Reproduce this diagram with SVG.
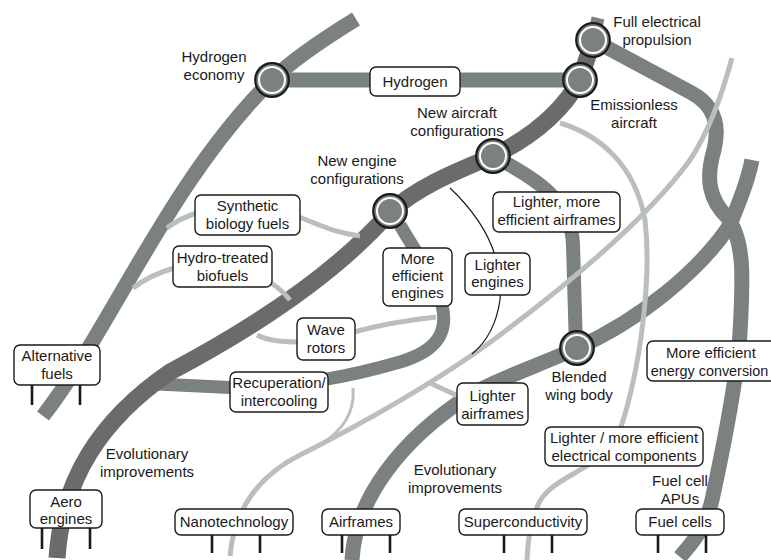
<svg xmlns="http://www.w3.org/2000/svg" width="771" height="560" viewBox="0 0 771 560">
<style>
text{font-family:"Liberation Sans",Arial,Helvetica,sans-serif;font-size:15px;fill:#1a1a1a;text-anchor:middle}
.dark{fill:none;stroke:#6b6b6b;stroke-width:17}
.gray{fill:none;stroke:#7b817f;stroke-width:15}
.light{fill:none;stroke:#b8bfbc;stroke-width:5}
.thin{fill:none;stroke:#1a1a1a;stroke-width:1.2}
.box{fill:#fff;stroke:#1a1a1a;stroke-width:1.4}
.leg{stroke:#1a1a1a;stroke-width:2.6}
.ring{fill:#7b817f;stroke:#1a1a1a;stroke-width:2.2}
.inner{fill:none;stroke:#fff;stroke-width:2}
</style>
<defs>
<g id="node"><circle r="16.8" class="ring"/><circle r="13" class="inner"/></g>
</defs>
<g id="connectors">
<path class="gray" d="M43 416 C110 330 170 180 272 80 C295 57 330 35 356 19"/>
<path class="gray" d="M272 80 L580 80"/>
<path class="gray" style="stroke-width:13" d="M157 384 L240 388 C300 385 345 378 400 362 C440 350 448 330 442 305 C438 280 420 260 400 225"/>
<path class="gray" style="stroke-width:14" d="M493 156 C535 178 572 200 573 245 L576 348"/>
<path class="gray" d="M593 40 L690 92 C715 105 720 125 714 150 C705 180 710 200 727 217 C745 240 743 280 740 333 C737 380 725 440 712 500 C705 530 690 545 680 557"/>
<path class="gray" d="M352 560 C355 500 400 440 470 395 C500 378 540 365 577 348 C640 320 700 270 730 225 C740 200 748 180 752 160"/>
<path class="gray" style="stroke-width:13" d="M593 40 L598 18"/>
<path class="dark" d="M57 558 C62 480 100 420 170 372 C240 335 330 280 390 212 C420 185 460 170 493 156 C530 138 560 115 580 80 L593 40"/>
<path class="light" d="M167 228 Q180 218 197 213"/>
<path class="light" d="M299 217 C320 225 335 233 360 236"/>
<path class="light" d="M133 288 Q150 275 174 268"/>
<path class="light" d="M271 283 Q282 290 290 300"/>
<path class="light" d="M257 335 Q270 342 298 342"/>
<path class="light" d="M354 332 Q390 322 436 317"/>
<path class="light" d="M430 383 L458 396"/>
<path class="light" d="M230 556 C233 520 250 480 300 455 C360 425 440 380 500 335 C580 275 650 215 690 160 C710 130 722 95 732 58"/>
<path class="light" style="stroke-width:3" d="M353 388 C355 410 345 430 318 446"/>
<path class="light" d="M560 123 C600 135 635 165 645 220 C652 280 640 370 620 430 C605 470 550 475 538 505 C530 525 528 540 527 560"/>
<path class="thin" d="M450 188 Q505 240 500 300 Q495 335 472 354"/>
<g class="leg">
<line x1="32" y1="385" x2="32" y2="405"/><line x1="80" y1="385" x2="80" y2="405"/>
<line x1="42" y1="528" x2="42" y2="549"/><line x1="90" y1="528" x2="90" y2="549"/>
<line x1="212" y1="535" x2="212" y2="553"/><line x1="260" y1="535" x2="260" y2="553"/>
<line x1="342" y1="535" x2="342" y2="553"/><line x1="390" y1="535" x2="390" y2="553"/>
<line x1="504" y1="535" x2="504" y2="553"/><line x1="552" y1="535" x2="552" y2="553"/>
<line x1="658" y1="535" x2="658" y2="553"/><line x1="706" y1="535" x2="706" y2="553"/>
</g>
</g>
<g id="n-hydrogen-economy"><use href="#node" x="272" y="80"/><text x="214" y="62">Hydrogen</text><text x="214" y="80">economy</text></g>
<g id="n-emissionless"><use href="#node" x="580" y="80"/><text x="634" y="110">Emissionless</text><text x="634" y="128">aircraft</text></g>
<g id="n-full-electrical"><use href="#node" x="593" y="40"/><text x="657" y="27">Full electrical</text><text x="657" y="45">propulsion</text></g>
<g id="n-new-aircraft"><use href="#node" x="493" y="156"/><text x="457" y="118">New aircraft</text><text x="457" y="136">configurations</text></g>
<g id="n-new-engine"><use href="#node" x="390" y="211"/><text x="357" y="166">New engine</text><text x="357" y="184">configurations</text></g>
<g id="n-blended"><use href="#node" x="577" y="348"/><text x="579" y="382">Blended</text><text x="579" y="400">wing body</text></g>
<g id="n-hydrogen"><rect class="box" x="370" y="67" width="90" height="29" rx="6"/><text x="415" y="87">Hydrogen</text></g>
<g id="n-synthetic"><rect class="box" x="195" y="195" width="105" height="40" rx="6"/><text x="247.5" y="211">Synthetic</text><text x="247.5" y="229">biology fuels</text></g>
<g id="n-hydrotreated"><rect class="box" x="173" y="246" width="99" height="41" rx="6"/><text x="222.5" y="263">Hydro-treated</text><text x="222.5" y="281">biofuels</text></g>
<g id="n-more-eff-engines"><rect class="box" x="383" y="248" width="69" height="58" rx="6"/><text x="417.5" y="264">More</text><text x="417.5" y="281">efficient</text><text x="417.5" y="298">engines</text></g>
<g id="n-lighter-engines"><rect class="box" x="465" y="253" width="65" height="42" rx="6"/><text x="497.5" y="270">Lighter</text><text x="497.5" y="287">engines</text></g>
<g id="n-lighter-more-eff-airframes"><rect class="box" x="493" y="192" width="127" height="40" rx="6"/><text x="556.5" y="207">Lighter, more</text><text x="556.5" y="225">efficient airframes</text></g>
<g id="n-wave-rotors"><rect class="box" x="297" y="318" width="58" height="42" rx="6"/><text x="326" y="335">Wave</text><text x="326" y="353">rotors</text></g>
<g id="n-recuperation"><rect class="box" x="230" y="372" width="98" height="40" rx="6"/><text x="279" y="388">Recuperation/</text><text x="279" y="406">intercooling</text></g>
<g id="n-lighter-airframes"><rect class="box" x="457" y="383" width="71" height="42" rx="6"/><text x="492.5" y="401">Lighter</text><text x="492.5" y="419">airframes</text></g>
<g id="n-energy-conversion"><rect class="box" x="647" y="341" width="140" height="40" rx="6"/><text x="711" y="358">More efficient</text><text x="709.5" y="376" style="font-size:14.4px">energy conversion</text></g>
<g id="n-electrical-components"><rect class="box" x="545" y="427" width="158" height="39" rx="6"/><text x="624" y="443">Lighter / more efficient</text><text x="624" y="461">electrical components</text></g>
<g id="n-alternative-fuels"><rect class="box" x="14" y="345" width="86" height="40" rx="6"/><text x="57" y="361">Alternative</text><text x="57" y="379">fuels</text></g>
<g id="n-aero-engines"><rect class="box" x="30" y="490" width="72" height="38" rx="6"/><text x="66" y="507">Aero</text><text x="66" y="524">engines</text></g>
<g id="n-nanotechnology"><rect class="box" x="175" y="509" width="118" height="26" rx="6"/><text x="234" y="527">Nanotechnology</text></g>
<g id="n-airframes"><rect class="box" x="322" y="509" width="78" height="26" rx="6"/><text x="361" y="527">Airframes</text></g>
<g id="n-superconductivity"><rect class="box" x="459" y="509" width="128" height="26" rx="6"/><text x="523" y="527">Superconductivity</text></g>
<g id="n-fuel-cells"><rect class="box" x="636" y="509" width="88" height="26" rx="6"/><text x="680" y="527">Fuel cells</text></g>
<g id="labels">
<text x="147" y="459">Evolutionary</text><text x="147" y="477">improvements</text>
<text x="455" y="475">Evolutionary</text><text x="455" y="493">improvements</text>
<text x="680" y="486">Fuel cell</text><text x="680" y="504">APUs</text>
</g>
</svg>
